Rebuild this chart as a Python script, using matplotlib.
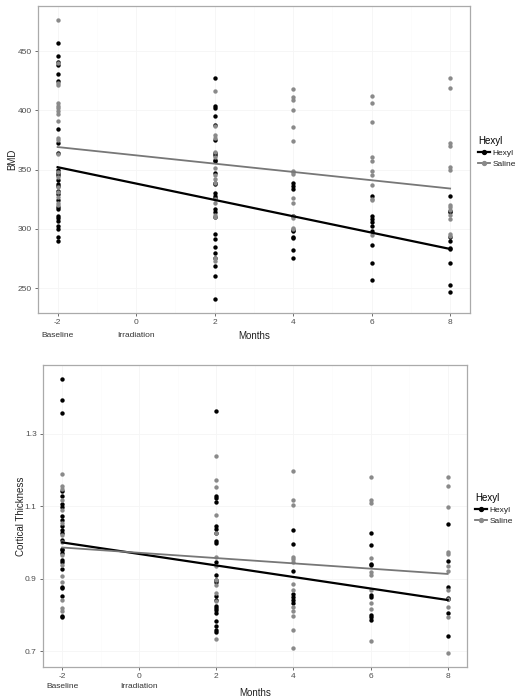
import matplotlib
matplotlib.use("Agg")
import matplotlib.pyplot as plt
from matplotlib.lines import Line2D
from matplotlib import transforms

plt.rcParams['font.family'] = ['Liberation Sans', 'DejaVu Sans']

months = [-2, 2, 4, 6, 8]
month_ticks = [-2, 0, 2, 4, 6, 8]
extra_labels = ["Baseline", "Irradiation"]
extra_label_pos = [-2, 0]

# ---- BMD panel data (per month) ----
bmd_hexyl = [
    [457, 446, 441, 438, 431, 425, 384, 372, 364, 350, 347, 345, 341, 338, 336, 332,
     329, 324, 318, 317, 311, 309, 307, 302, 300, 293, 290],
    [427, 404, 402, 395, 388, 375, 364, 362, 358, 357, 347, 339, 338, 330, 328, 326,
     317, 314, 310, 296, 291, 285, 280, 275, 269, 260, 241],
    [339, 336, 334, 311, 299, 298, 293, 292, 282, 275],
    [328, 311, 308, 306, 302, 298, 286, 271, 257],
    [328, 315, 314, 293, 290, 284, 283, 271, 253, 247],
]
bmd_saline = [
    [476, 440, 423, 421, 406, 404, 402, 399, 397, 391, 377, 375, 363, 348, 344, 335,
     331, 327, 322, 320],
    [416, 387, 379, 377, 365, 361, 351, 345, 342, 339, 325, 322, 312, 310, 275, 273],
    [418, 411, 409, 400, 386, 374, 349, 348, 346, 326, 322, 311, 309, 301, 300],
    [412, 406, 390, 361, 357, 349, 345, 337, 325, 324, 295],
    [427, 419, 372, 370, 352, 350, 320, 318, 316, 312, 308, 296, 294],
]
fit_months = [-2, 8]
bmd_fit_hexyl = [352, 283]
bmd_fit_saline = [369, 334]
bmd_yticks = [250, 300, 350, 400, 450]

# ---- Cortical thickness panel data (per month) ----
ct_hexyl = [
    [1.452, 1.392, 1.357, 1.141, 1.129, 1.107, 1.099, 1.072, 1.062, 1.046, 1.035, 1.026,
     1.007, 0.982, 0.978, 0.970, 0.952, 0.947, 0.926, 0.876, 0.874, 0.853, 0.797, 0.795],
    [1.364, 1.129, 1.122, 1.113, 1.044, 1.037, 1.027, 1.004, 0.998, 0.945, 0.911, 0.895,
     0.890, 0.853, 0.841, 0.825, 0.818, 0.814, 0.805, 0.784, 0.768, 0.759, 0.754],
    [1.035, 0.996, 0.921, 0.857, 0.849, 0.841, 0.832],
    [1.026, 0.993, 0.941, 0.938, 0.855, 0.849, 0.800, 0.793, 0.786],
    [1.050, 0.949, 0.878, 0.846, 0.843, 0.806, 0.742],
]
ct_saline = [
    [1.189, 1.156, 1.147, 1.118, 1.090, 1.055, 1.021, 1.000, 0.966, 0.938, 0.906, 0.892,
     0.841, 0.818, 0.812],
    [1.240, 1.173, 1.152, 1.076, 1.027, 0.961, 0.934, 0.897, 0.883, 0.860, 0.837, 0.733],
    [1.198, 1.118, 1.104, 0.961, 0.954, 0.945, 0.886, 0.869, 0.823, 0.812, 0.798, 0.757, 0.708],
    [1.180, 1.118, 1.108, 0.957, 0.917, 0.911, 0.869, 0.832, 0.816, 0.728],
    [1.182, 1.156, 1.099, 0.973, 0.968, 0.934, 0.920, 0.869, 0.843, 0.823, 0.795, 0.694],
]
ct_fit_hexyl = [1.000, 0.841]
ct_fit_saline = [0.986, 0.913]
ct_yticks = [0.7, 0.9, 1.1, 1.3]

groups = ["Hexyl", "Saline"]
col_hexyl = "#000000"
col_saline = "#8a8a8a"
line_saline = "#777777"
tick_col = "#4d4d4d"

fig = plt.figure(figsize=(5.24, 6.98), dpi=100)


def flatten(groups_per_month):
    xs, ys = [], []
    for m, vals in zip(months, groups_per_month):
        xs += [m] * len(vals)
        ys += vals
    return xs, ys


def panel(rect, hex_data, sal_data, fit_h, fit_s, yticks, ylim, ylabel, yfmt,
          extra_y, xlabel_y, ylabel_x, leg_anchor):
    ax = fig.add_axes(rect)
    ax.set_facecolor("white")
    for m in month_ticks:
        ax.axvline(m, color="#f5f5f5", lw=0.6, zorder=0)
    for m in [-1, 1, 3, 5, 7]:
        ax.axvline(m, color="#fafafa", lw=0.4, zorder=0)
    for t in yticks:
        ax.axhline(t, color="#f5f5f5", lw=0.6, zorder=0)
    xh, yh = flatten(hex_data)
    xs, ys = flatten(sal_data)
    ax.scatter(xh, yh, s=10, color=col_hexyl, lw=0, zorder=2)
    ax.scatter(xs, ys, s=10, color=col_saline, lw=0, zorder=2)
    ax.plot(fit_months, fit_h, color=col_hexyl, lw=1.6, zorder=3)
    ax.plot(fit_months, fit_s, color=line_saline, lw=1.3, zorder=3)
    ax.set_xlim(-2.5, 8.5)
    ax.set_ylim(*ylim)
    ax.set_xticks(month_ticks)
    ax.set_xticklabels([str(m) for m in month_ticks])
    ax.set_yticks(yticks)
    ax.set_yticklabels([yfmt.format(t) for t in yticks])
    ax.tick_params(axis="both", length=2.5, width=0.6, color="#555555",
                   labelsize=6, labelcolor=tick_col, pad=2)
    for sp in ax.spines.values():
        sp.set_color("#aaaaaa")
        sp.set_linewidth(0.9)
    ax.set_ylabel(ylabel, fontsize=7, color="#222222")
    ax.yaxis.set_label_coords(ylabel_x, 0.5)
    ax.set_xlabel("Months", fontsize=7, color="#222222")
    ax.xaxis.set_label_coords(0.5, xlabel_y)
    trans = transforms.blended_transform_factory(ax.transData, ax.transAxes)
    for lab, pos in zip(extra_labels, extra_label_pos):
        ax.text(pos, extra_y, lab, transform=trans, ha="center", va="center",
                fontsize=6, color="#333333")
    handles = [
        Line2D([0], [0], color=col_hexyl, lw=1.6, marker="o", markersize=2.8),
        Line2D([0], [0], color=line_saline, lw=1.3, marker="o", markersize=2.8,
               markerfacecolor=col_saline, markeredgecolor=col_saline),
    ]
    leg = ax.legend(handles, groups, title="Hexyl", loc="upper left",
                    bbox_to_anchor=leg_anchor, frameon=False, fontsize=6,
                    title_fontsize=7, handlelength=1.4, handletextpad=0.3,
                    labelspacing=0.35, borderaxespad=0, borderpad=0)
    leg._legend_box.align = "left"
    for t in leg.get_texts():
        t.set_color("#222222")
    return ax


panel([0.0725, 0.5516, 0.824, 0.4398], bmd_hexyl, bmd_saline,
      bmd_fit_hexyl, bmd_fit_saline, bmd_yticks, (229, 488), "BMD", "{:d}",
      -0.072, -0.058, -0.049, (1.02, 0.575))

panel([0.082, 0.0444, 0.809, 0.4327], ct_hexyl, ct_saline,
      ct_fit_hexyl, ct_fit_saline, ct_yticks, (0.656, 1.49), "Cortical Thickness",
      "{:.1f}", -0.063, -0.068, -0.04, (1.02, 0.575))

fig.savefig("out.png", dpi=100, facecolor="white")
